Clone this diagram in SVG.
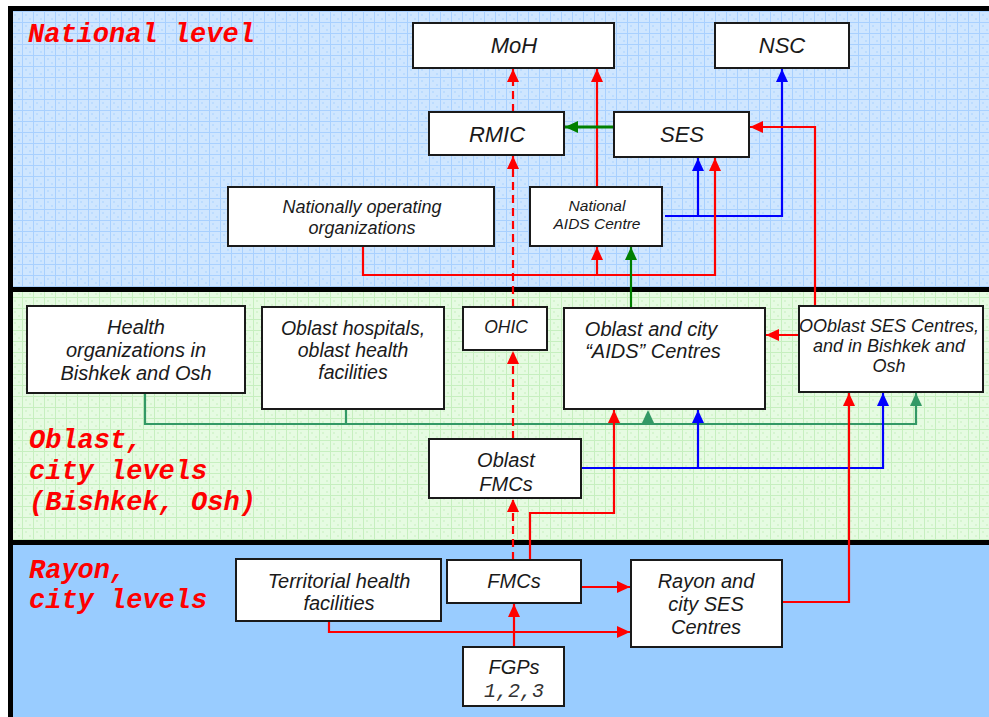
<svg xmlns="http://www.w3.org/2000/svg" width="989" height="717" viewBox="0 0 989 717">
<defs>
<pattern id="gridBlue" width="11" height="11" patternUnits="userSpaceOnUse">
<rect width="11" height="11" fill="#cfe6ff"/>
<path d="M3,3 h2 v2 h-2 z M7,7 h2 v2 h-2 z" fill="#bcdcff"/>
<path d="M0,0.5 H11 M0.5,0 V11" stroke="#a8d0ff" stroke-width="1"/>
</pattern>
<pattern id="gridGreen" width="11" height="11" patternUnits="userSpaceOnUse">
<rect width="11" height="11" fill="#e6fbe2"/>
<path d="M3,3 h2 v2 h-2 z M7,7 h2 v2 h-2 z" fill="#d6f5d0"/>
<path d="M0,0.5 H11 M0.5,0 V11" stroke="#c6efbf" stroke-width="1"/>
</pattern>
<marker id="aRed" markerUnits="userSpaceOnUse" markerWidth="14" markerHeight="12" refX="13" refY="6" orient="auto"><path d="M0,0 L13,6 L0,12 z" fill="#ff0000"/></marker>
<marker id="aBlue" markerUnits="userSpaceOnUse" markerWidth="14" markerHeight="12" refX="13" refY="6" orient="auto"><path d="M0,0 L13,6 L0,12 z" fill="#0000ff"/></marker>
<marker id="aGreen" markerUnits="userSpaceOnUse" markerWidth="14" markerHeight="12" refX="13" refY="6" orient="auto"><path d="M0,0 L13,6 L0,12 z" fill="#008000"/></marker>
<marker id="aSea" markerUnits="userSpaceOnUse" markerWidth="14" markerHeight="12" refX="13" refY="6" orient="auto"><path d="M0,0 L13,6 L0,12 z" fill="#339966"/></marker>
</defs>
<style>
.box{fill:#ffffff;stroke:#1a1a1a;stroke-width:2}
.t{font-family:"Liberation Sans",Arial,sans-serif;font-style:italic;fill:#1a1a1a;text-anchor:middle}
.lvl{font-family:"Liberation Mono","Courier New",monospace;font-style:italic;font-weight:bold;fill:#ff0000;font-size:27px}
.red{fill:none;stroke:#ff0000;stroke-width:2.2}
.dash{fill:none;stroke:#ff0000;stroke-width:2.2;stroke-dasharray:8,5}
.blue{fill:none;stroke:#0000ff;stroke-width:2.2}
.green{fill:none;stroke:#008000;stroke-width:2.2}
.sea{fill:none;stroke:#339966;stroke-width:2.2}
</style>
<rect width="989" height="717" fill="#ffffff"/>
<g id="backgrounds">
<rect x="13" y="11" width="976" height="276" fill="url(#gridBlue)"/>
<rect x="13" y="292" width="976" height="248" fill="url(#gridGreen)"/>
<rect x="13" y="545" width="976" height="172" fill="#99ccff"/>
<rect x="8" y="6" width="981" height="5" fill="#000000"/>
<rect x="8" y="6" width="5" height="711" fill="#000000"/>
<rect x="8" y="287" width="981" height="5" fill="#000000"/>
<rect x="8" y="540" width="981" height="5" fill="#000000"/>
</g>
<g id="level-labels">
<text class="lvl" x="28" y="42">National level</text>
<text class="lvl" x="29" y="448">Oblast,</text>
<text class="lvl" x="29" y="479">city levels</text>
<text class="lvl" x="29" y="510">(Bishkek, Osh)</text>
<text class="lvl" x="29" y="578">Rayon,</text>
<text class="lvl" x="29" y="608">city levels</text>
</g>
<g id="connectors">
<path class="dash" d="M513,307 V156" marker-end="url(#aRed)"/>
<path class="dash" d="M513,112 V69" marker-end="url(#aRed)"/>
<path class="red" d="M597,187 V69" marker-end="url(#aRed)"/>
<path class="green" style="stroke-width:3" d="M614,127 H565" marker-end="url(#aGreen)"/>
<path class="blue" d="M665,216 H782 V69" marker-end="url(#aBlue)"/>
<path class="blue" d="M698,216 V158" marker-end="url(#aBlue)"/>
<path class="red" d="M363,246 V275 H715 V158" marker-end="url(#aRed)"/>
<path class="red" d="M597,275 V247" marker-end="url(#aRed)"/>
<path class="green" d="M631,308 V247" marker-end="url(#aGreen)"/>
<path class="red" d="M815,306 V127 H750" marker-end="url(#aRed)"/>
<path class="red" d="M799,335 H766" marker-end="url(#aRed)"/>
<path class="sea" d="M145,393 V424 H916 V393" marker-end="url(#aSea)"/>
<path class="sea" d="M346,409 V424"/>
<polygon points="648,410 654,423 642,423" fill="#339966"/>
<path class="dash" d="M513,439 V351" marker-end="url(#aRed)"/>
<path class="red" d="M530,560 V513 H614 V410" marker-end="url(#aRed)"/>
<path class="blue" d="M581,468 H883 V393" marker-end="url(#aBlue)"/>
<path class="blue" d="M698,468 V410" marker-end="url(#aBlue)"/>
<path class="red" d="M782,602 H849 V393" marker-end="url(#aRed)"/>
<path class="dash" d="M513,560 V499" marker-end="url(#aRed)"/>
<path class="red" d="M581,587 H630" marker-end="url(#aRed)"/>
<path class="red" d="M329,621 V632 H630" marker-end="url(#aRed)"/>
<path class="red" d="M514,647 V604" marker-end="url(#aRed)"/>
</g>
<g id="moh"><rect class="box" x="413" y="23" width="201" height="45"/><text class="t" x="514" y="53" font-size="22">MoH</text></g>
<g id="nsc"><rect class="box" x="715" y="23" width="134" height="45"/><text class="t" x="782" y="53" font-size="22">NSC</text></g>
<g id="rmic"><rect class="box" x="429" y="112" width="135" height="43"/><text class="t" x="497" y="142" font-size="22">RMIC</text></g>
<g id="ses"><rect class="box" x="614" y="112" width="135" height="45"/><text class="t" x="682" y="142" font-size="22">SES</text></g>
<g id="national-orgs"><rect class="box" x="228" y="187" width="266" height="59"/><text class="t" font-size="18"><tspan x="362" y="213">Nationally operating</tspan><tspan x="362" y="234">organizations</tspan></text></g>
<g id="national-aids"><rect class="box" x="530" y="187" width="132" height="59"/><text class="t" font-size="15.5"><tspan x="597" y="211">National</tspan><tspan x="597" y="229">AIDS Centre</tspan></text></g>
<g id="health-orgs"><rect class="box" x="27" y="306" width="218" height="87"/><text class="t" font-size="20"><tspan x="136" y="334">Health</tspan><tspan x="136" y="357">organizations in</tspan><tspan x="136" y="380">Bishkek and Osh</tspan></text></g>
<g id="oblast-hospitals"><rect class="box" x="262" y="307" width="182" height="102"/><text class="t" font-size="19.5"><tspan x="353" y="335">Oblast hospitals,</tspan><tspan x="353" y="357">oblast health</tspan><tspan x="353" y="379">facilities</tspan></text></g>
<g id="ohic"><rect class="box" x="463" y="307" width="84" height="43"/><text class="t" x="506" y="333" font-size="17.5">OHIC</text></g>
<g id="oblast-aids"><rect class="box" x="564" y="308" width="201" height="101"/><text class="t" font-size="20"><tspan x="651" y="336">Oblast and city</tspan><tspan x="653" y="358">“AIDS” Centres</tspan></text></g>
<g id="oblast-ses"><rect class="box" x="799" y="306" width="184" height="86"/><text class="t" font-size="18"><tspan x="889" y="332">OOblast SES Centres,</tspan><tspan x="889" y="352">and in Bishkek and</tspan><tspan x="889" y="372">Osh</tspan></text></g>
<g id="oblast-fmcs"><rect class="box" x="429" y="439" width="152" height="59"/><text class="t" font-size="20"><tspan x="506" y="467">Oblast</tspan><tspan x="506" y="491">FMCs</tspan></text></g>
<g id="territorial"><rect class="box" x="236" y="559" width="205" height="62"/><text class="t" font-size="20"><tspan x="339" y="588">Territorial health</tspan><tspan x="339" y="610">facilities</tspan></text></g>
<g id="fmcs"><rect class="box" x="447" y="560" width="134" height="43"/><text class="t" x="514" y="588" font-size="20">FMCs</text></g>
<g id="rayon-ses"><rect class="box" x="631" y="560" width="151" height="87"/><text class="t" font-size="20"><tspan x="706" y="588">Rayon and</tspan><tspan x="706" y="611">city SES</tspan><tspan x="706" y="634">Centres</tspan></text></g>
<g id="fgps"><rect class="box" x="463" y="647" width="101" height="59"/><text class="t" x="514" y="674" font-size="20">FGPs</text><text x="514" y="697" font-size="20" style="font-family:'Liberation Mono','Courier New',monospace;font-style:italic;fill:#333333;text-anchor:middle">1,2,3</text></g>
</svg>
